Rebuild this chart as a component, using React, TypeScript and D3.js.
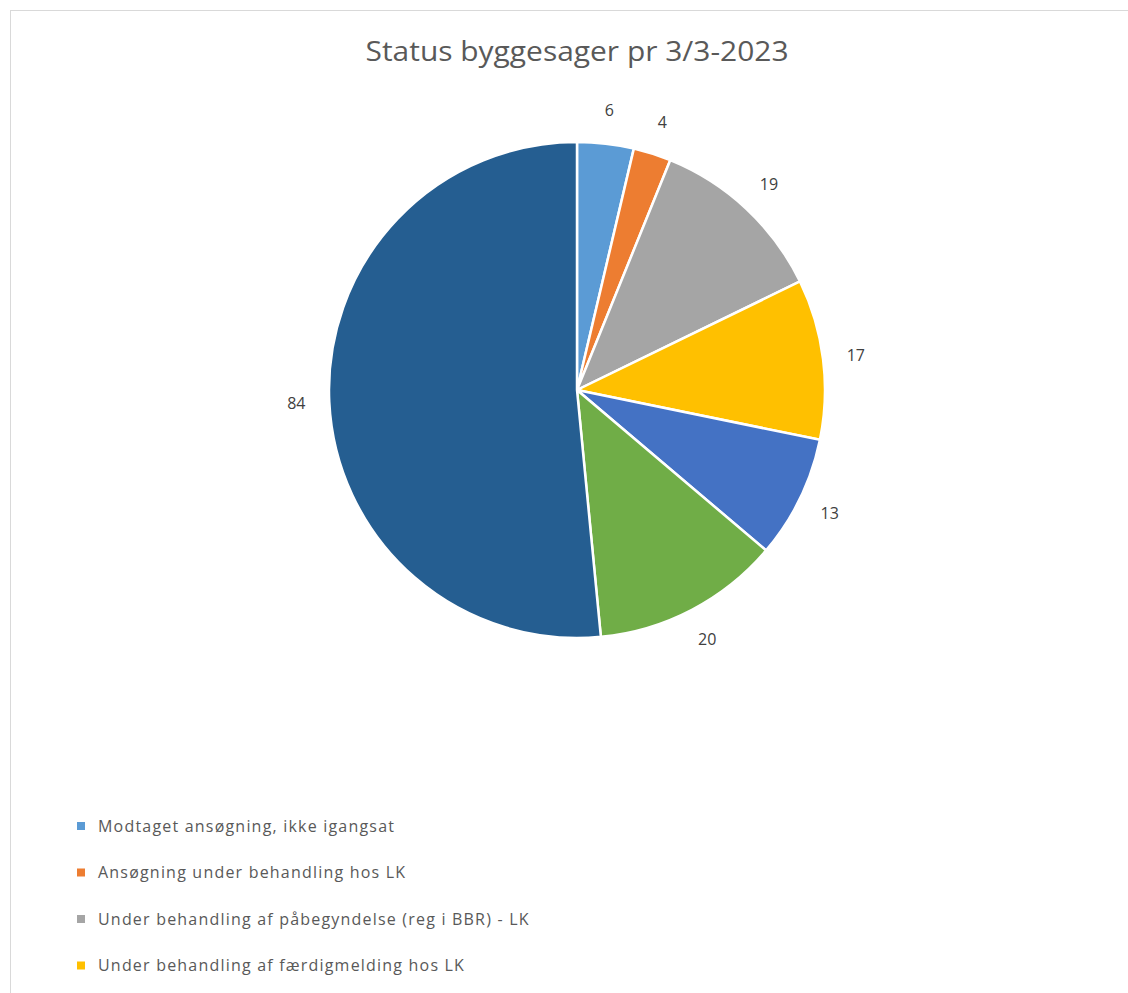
import React from "react";
import * as d3 from "d3";

const title = "Status byggesager pr 3/3-2023";

// slice values in drawing order (clockwise from 12 o'clock)
const values = [6, 4, 19, 17, 13, 20, 84];
const colors = ["#5B9BD5", "#ED7D31", "#A5A5A5", "#FFC000", "#4472C4", "#70AD47", "#255E91"];

// only the first four legend entries are visible in the picture
const legendLabels = [
  "Modtaget ansøgning, ikke igangsat",
  "Ansøgning under behandling hos LK",
  "Under behandling af påbegyndelse (reg i BBR) - LK",
  "Under behandling af færdigmelding hos LK",
];

const width = 1128;
const height = 993;
const cx = 577;
const cy = 390;
const radius = 248;
const labelRadius = 281;

const App: React.FC = () => {
  const pie = d3
    .pie<number>()
    .sort(null)
    .value((d) => d);
  const arcs = pie(values);

  const arc = d3.arc<d3.PieArcDatum<number>>().innerRadius(0).outerRadius(radius);
  const labelArc = d3
    .arc<d3.PieArcDatum<number>>()
    .innerRadius(labelRadius)
    .outerRadius(labelRadius);

  const font = "'Open Sans', 'Noto Sans', sans-serif";

  return (
    <svg
      width={width}
      height={height}
      style={{ position: "absolute", left: 0, top: 0, background: "#fff" }}
    >
      <rect x={10.5} y={10.5} width={width} height={height} fill="#fff" stroke="#d9d9d9" />
      <text
        x={cx}
        y={61}
        textAnchor="middle"
        fontFamily={font}
        fontSize={27}
        fill="#595959"
        textLength={423}
        lengthAdjust="spacingAndGlyphs"
      >
        {title}
      </text>

      <g transform={`translate(${cx},${cy})`}>
        {arcs.map((a, i) => (
          <path key={i} d={arc(a) || ""} fill={colors[i]} stroke="#fff" strokeWidth={2.5} />
        ))}
        {arcs.map((a, i) => {
          const [x, y] = labelArc.centroid(a);
          return (
            <text
              key={i}
              x={x}
              y={y}
              dy="0.35em"
              textAnchor="middle"
              fontFamily={font}
              fontSize={16}
              fill="#404040"
            >
              {a.data}
            </text>
          );
        })}
      </g>

      <g transform="translate(77,826)">
        {legendLabels.map((label, i) => (
          <g key={i} transform={`translate(0,${i * 46.5})`}>
            <rect x={0} y={-4} width={8} height={8} fill={colors[i]} />
            <text
              x={21}
              y={0}
              dy="0.35em"
              fontFamily={font}
              fontSize={16}
              letterSpacing={1.2}
              fill="#595959"
            >
              {label}
            </text>
          </g>
        ))}
      </g>
    </svg>
  );
};

export default App;
